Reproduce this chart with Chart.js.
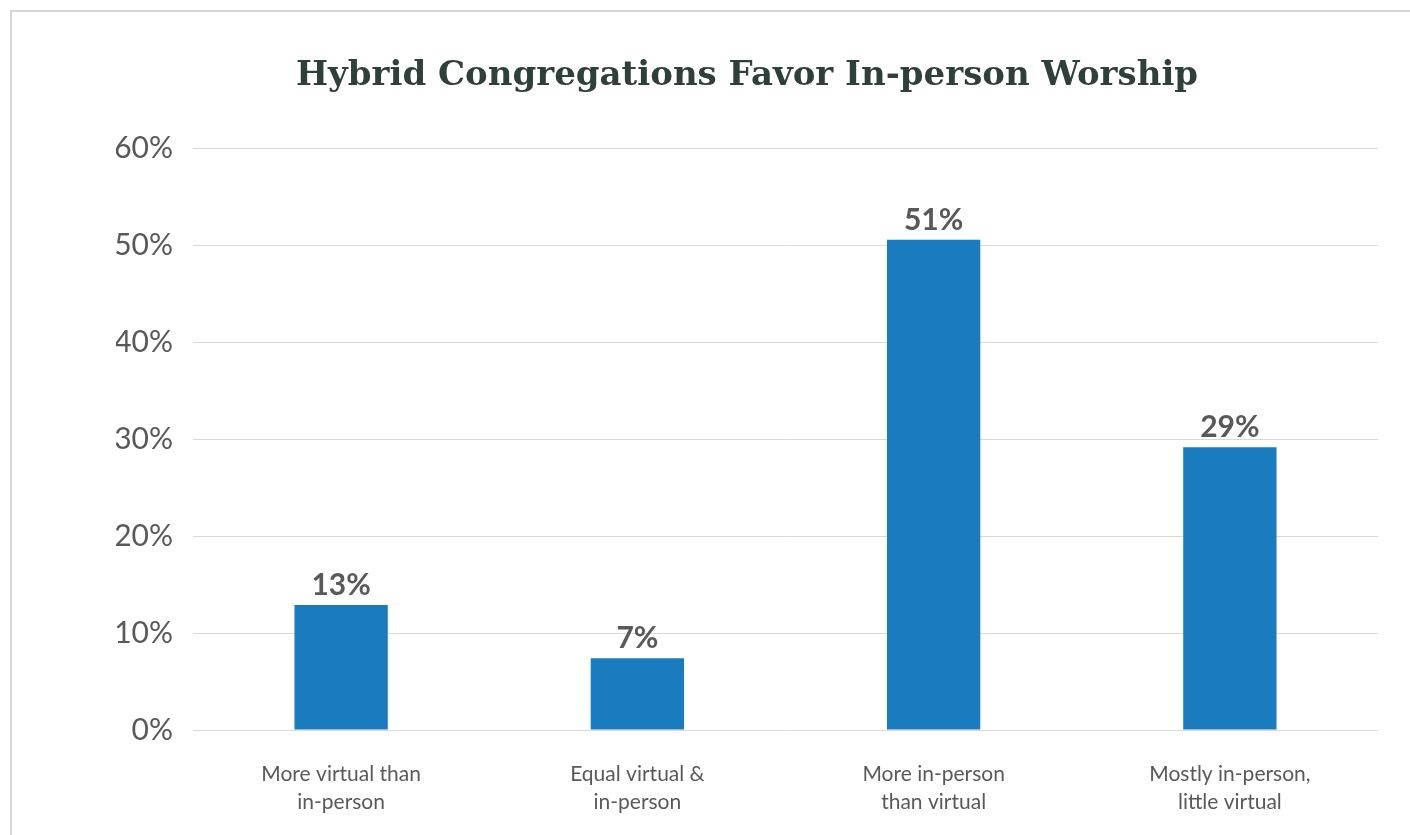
<!DOCTYPE html>
<html>
<head>
<meta charset="utf-8">
<script src="https://cdn.jsdelivr.net/npm/chart.js@4.4.0/dist/chart.umd.min.js"></script>
<style>
  html, body { margin: 0; padding: 0; background: #fff; }
  #wrap { position: relative; width: 1410px; height: 835px; overflow: hidden; }
  #frame { position: absolute; left: 10px; top: 10px; width: 1500px; height: 900px;
           border-top: 2px solid #d6d6d6; border-left: 2px solid #d6d6d6; }
  #chart { position: absolute; left: 0; top: 0; }
</style>
</head>
<body>
<div id="wrap">
  <div id="frame"></div>
  <canvas id="chart" width="1410" height="835"></canvas>
</div>
<script>
// data
const categories = [
    ['More virtual than', 'in-person'],
    ['Equal virtual &', 'in-person'],
    ['More in-person', 'than virtual'],
    ['Mostly in-person,', 'little virtual']
];
const shares = [12.9, 7.4, 50.6, 29.2];
const yTicks = [0, 10, 20, 30, 40, 50, 60];

const textGray = '#595959';

// value labels above each bar
const barLabels = {
    id: 'barLabels',
    afterDatasetsDraw(chart) {
        const ctx = chart.ctx;
        const meta = chart.getDatasetMeta(0);
        ctx.save();
        ctx.font = 'bold 30px Lato';
        ctx.fillStyle = textGray;
        ctx.textAlign = 'center';
        ctx.textBaseline = 'alphabetic';
        meta.data.forEach((bar, i) => {
            ctx.fillText(Math.round(shares[i]) + '%', bar.x, bar.y - 10);
        });
        ctx.restore();
    }
};

const ctx = document.getElementById('chart').getContext('2d');
new Chart(ctx, {
    type: 'bar',
    data: {
        labels: categories,
        datasets: [{
            data: shares,
            backgroundColor: '#1a7bbf',
            borderWidth: 0,
            categoryPercentage: 1,
            barPercentage: 0.315
        }]
    },
    options: {
        responsive: false,
        animation: false,
        // left padding shifts the title centre over to where the reference has it
        layout: { padding: { left: 116, right: 32, top: 0, bottom: 0 } },
        plugins: {
            legend: { display: false },
            tooltip: { enabled: false },
            title: {
                display: true,
                text: 'Hybrid Congregations Favor In-person Worship',
                color: '#2f403b',
                font: { family: 'DejaVu Serif', size: 34, weight: 'bold', lineHeight: 1.2 },
                padding: { top: 56, bottom: 52 }
            }
        },
        scales: {
            x: {
                grid: { display: false, drawTicks: false },
                border: { display: false },
                ticks: {
                    color: textGray,
                    font: { family: 'Lato', size: 21, lineHeight: 1.3 },
                    padding: 31,
                    maxRotation: 0
                },
                afterFit(scale) { scale.height = 105; }
            },
            y: {
                min: 0,
                max: 60,
                afterBuildTicks(scale) { scale.ticks = yTicks.map(v => ({ value: v })); },
                grid: { color: '#d9d9d9', lineWidth: 1, drawTicks: false },
                border: { display: false },
                ticks: {
                    color: textGray,
                    font: { family: 'Lato', size: 30 },
                    padding: 20,
                    callback: v => v + '%'
                },
                afterFit(scale) { scale.width = 193 - 116; }
            }
        }
    },
    plugins: [barLabels]
});
</script>
</body>
</html>
